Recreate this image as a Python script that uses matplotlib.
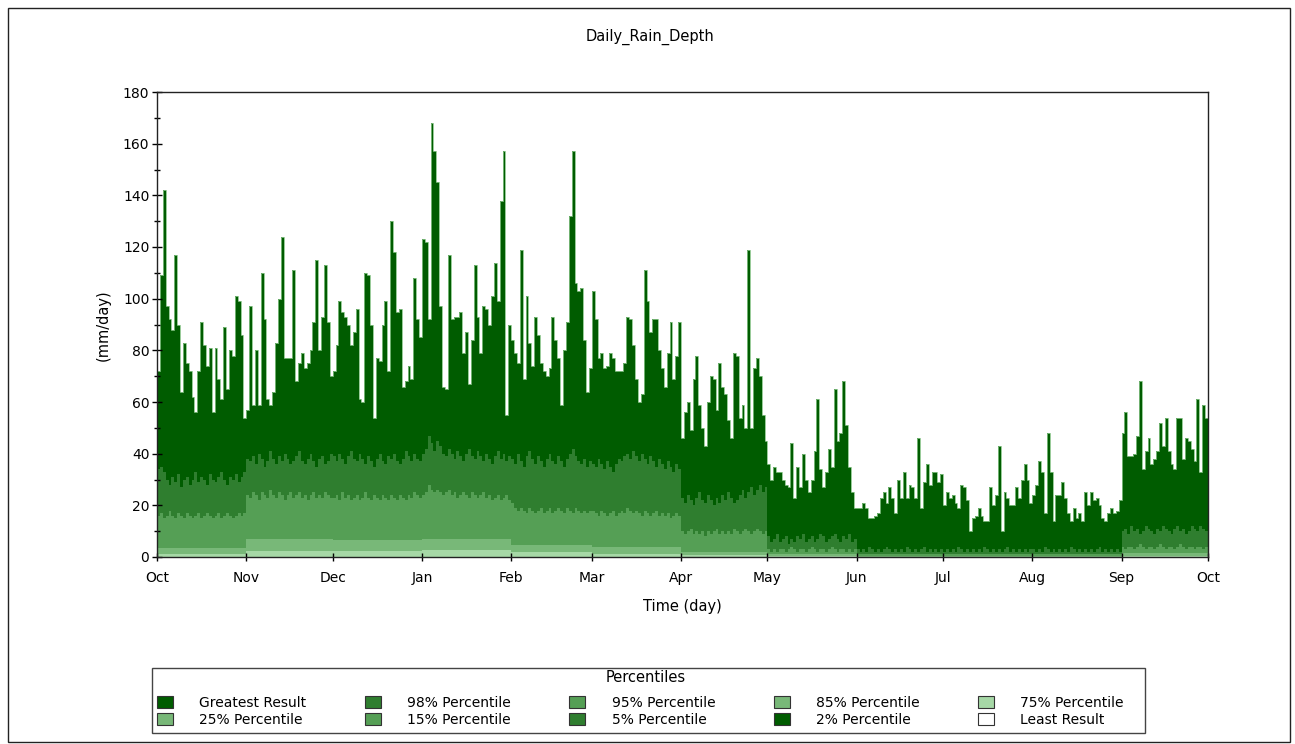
import matplotlib.pyplot as plt
import numpy as np
from matplotlib.patches import Patch, Rectangle

W, H = 1295, 744

month_labels = ['Oct', 'Nov', 'Dec', 'Jan', 'Feb', 'Mar', 'Apr', 'May', 'Jun', 'Jul', 'Aug', 'Sep', 'Oct']
month_days = [31, 30, 31, 31, 28, 31, 30, 31, 30, 31, 31, 30]

# daily values (mm/day), Oct 1 .. Sep 30
greatest = [
    # Oct
    72, 109, 142, 97, 92, 88, 117, 90, 64, 83, 75, 72, 62, 56, 72, 91, 82, 74, 81, 56,
    81, 69, 61, 89, 65, 80, 78, 101, 99, 86, 54,
    # Nov
    57, 97, 59, 80, 59, 110, 92, 61, 59, 64, 83, 100, 124, 77, 77, 77, 111, 68, 75, 79,
    73, 75, 80, 91, 115, 80, 93, 113, 91, 70,
    # Dec
    72, 82, 99, 95, 93, 90, 82, 87, 96, 61, 60, 110, 109, 90, 54, 77, 76, 90, 99, 72,
    130, 118, 95, 96, 66, 68, 74, 69, 108, 92, 85,
    # Jan
    123, 122, 92, 168, 157, 145, 97, 66, 65, 117, 92, 93, 93, 95, 79, 87, 67, 84, 113, 93,
    79, 97, 96, 90, 101, 114, 99, 138, 157, 55, 90,
    # Feb
    84, 79, 75, 119, 69, 101, 83, 74, 93, 86, 75, 72, 70, 73, 93, 84, 77, 59, 80, 91,
    132, 157, 106, 103, 104, 84, 64, 73,
    # Mar
    103, 92, 77, 79, 73, 74, 79, 77, 72, 72, 72, 75, 93, 92, 82, 69, 60, 63, 111, 99,
    87, 92, 92, 80, 73, 66, 79, 91, 69, 78, 91,
    # Apr
    46, 56, 60, 49, 69, 78, 59, 50, 43, 60, 70, 69, 57, 75, 66, 63, 53, 46, 79, 78,
    54, 59, 50, 119, 50, 73, 77, 70, 55, 45,
    # May
    36, 30, 35, 33, 33, 30, 28, 27, 44, 23, 35, 27, 40, 30, 25, 30, 41, 61, 34, 27,
    33, 42, 35, 65, 45, 48, 68, 51, 35, 25, 19,
    # Jun
    19, 19, 21, 19, 15, 15, 16, 17, 23, 25, 21, 27, 23, 17, 30, 23, 33, 23, 28, 27,
    23, 46, 19, 29, 36, 28, 33, 33, 29, 32,
    # Jul
    20, 25, 23, 24, 21, 19, 28, 27, 22, 10, 15, 16, 19, 16, 14, 14, 27, 20, 24, 43,
    10, 25, 23, 20, 20, 27, 23, 30, 36, 30, 21,
    # Aug
    24, 28, 37, 33, 17, 48, 33, 14, 24, 24, 29, 23, 17, 14, 19, 15, 17, 14, 25, 20,
    25, 22, 23, 20, 15, 14, 17, 19, 17, 18, 22,
    # Sep
    48, 56, 39, 39, 40, 47, 68, 34, 41, 46, 36, 38, 41, 52, 43, 54, 41, 36, 34, 54,
    54, 38, 46, 45, 42, 37, 61, 33, 59, 54,
]

p98 = [
    # Oct
    34, 35, 33, 30, 28, 31, 29, 32, 27, 30, 31, 28, 30, 33, 29, 31, 30, 28, 32, 30,
    29, 31, 33, 30, 28, 31, 30, 32, 29, 31, 33,
    # Nov
    38, 37, 39, 36, 40, 38, 35, 37, 41, 38, 36, 39, 37, 40, 38, 36, 37, 39, 41, 37,
    36, 38, 40, 37, 35, 38, 39, 36, 37, 40,
    # Dec
    39, 37, 40, 38, 36, 39, 41, 38, 37, 40, 38, 36, 39, 37, 35, 38, 40, 37, 36, 39,
    38, 40, 37, 36, 38, 41, 39, 37, 40, 38, 37,
    # Jan
    40, 42, 47, 44, 41, 45, 43, 40, 39, 42, 40, 38, 41, 39, 37, 40, 42, 39, 38, 41,
    39, 37, 40, 38, 36, 39, 41, 38, 40, 37, 39,
    # Feb
    38, 36, 40, 37, 35, 39, 41, 38, 36, 39, 37, 35, 38, 40, 37, 36, 39, 37, 35, 38,
    40, 42, 39, 37, 36, 38, 35, 37,
    # Mar
    36, 35, 38, 36, 34, 37, 35, 33, 36, 38, 37, 39, 40, 38, 41, 39, 37, 40, 38, 36,
    39, 37, 35, 38, 36, 34, 37, 35, 33, 36, 34,
    # Apr
    23, 21, 24, 22, 20, 23, 25, 22, 21, 24, 22, 20, 23, 21, 24, 22, 25, 23, 21, 22,
    24, 26, 23, 25, 27, 24, 26, 28, 25, 27,
    # May
    8, 6, 7, 9, 6, 7, 8, 5, 7, 6, 8, 7, 9, 6, 7, 8, 6, 7, 9, 8,
    6, 7, 8, 9, 7, 6, 8, 7, 9, 6, 7,
    # Jun
    3, 2, 3, 2, 4, 3, 2, 3, 2, 3, 4, 3, 2, 3, 2, 3, 2, 4, 3, 2,
    3, 2, 3, 4, 2, 3, 2, 3, 2, 3,
    # Jul
    2, 3, 2, 3, 2, 4, 3, 2, 3, 2, 3, 2, 3, 2, 4, 3, 2, 3, 2, 3,
    2, 3, 4, 2, 3, 2, 3, 2, 3, 2, 3,
    # Aug
    3, 2, 3, 2, 4, 3, 2, 3, 2, 3, 2, 3, 2, 4, 3, 2, 3, 2, 3, 2,
    3, 2, 3, 4, 2, 3, 2, 3, 2, 3, 2,
    # Sep
    10, 11, 9, 12, 10, 11, 9, 10, 12, 11, 10, 9, 11, 10, 12, 11, 10, 9, 11, 12,
    10, 11, 9, 10, 12, 11, 10, 12, 11, 10,
]

p95 = [
    # Oct
    16, 17, 15, 16, 18, 16, 15, 17, 16, 15, 17, 16, 15, 16, 17, 15, 16, 17, 16, 15,
    16, 17, 15, 16, 17, 16, 15, 16, 17, 16, 17,
    # Nov
    24, 23, 25, 24, 22, 25, 24, 23, 26, 24, 23, 25, 24, 22, 24, 25, 23, 24, 25, 23,
    24, 22, 24, 25, 23, 24, 23, 25, 24, 23,
    # Dec
    23, 24, 22, 25, 23, 24, 22, 23, 24, 22, 23, 25, 23, 22, 24, 23, 22, 24, 23, 22,
    24, 23, 22, 24, 23, 22, 24, 23, 25, 24, 23,
    # Jan
    24, 25, 28, 26, 25, 26, 25, 24, 25, 26, 24, 25, 23, 24, 25, 24, 23, 25, 24, 23,
    24, 25, 23, 24, 22, 23, 24, 22, 23, 24, 22,
    # Feb
    21, 19, 18, 19, 18, 17, 19, 18, 17, 18, 19, 17, 18, 19, 17, 18, 19, 18, 17, 19,
    18, 17, 19, 18, 17, 18, 17, 18,
    # Mar
    18, 17, 16, 18, 17, 16, 17, 18, 16, 17, 18, 17, 19, 18, 17, 18, 17, 16, 18, 17,
    16, 17, 18, 16, 17, 16, 17, 15, 16, 17, 16,
    # Apr
    10, 9, 10, 11, 9, 10, 9, 10, 8, 10, 9, 10, 11, 9, 10, 9, 10, 9, 11, 10,
    9, 10, 11, 10, 9, 10, 11, 10, 9, 10,
    # May
    3, 2, 3, 2, 3, 3, 2, 3, 4, 3, 2, 3, 3, 2, 3, 4, 3, 2, 3, 3,
    2, 3, 4, 3, 2, 3, 3, 2, 3, 2, 3,
    # Jun
    1, 1, 1, 1, 1, 1, 1, 1, 1, 1, 1, 1, 1, 1, 1, 1, 1, 1, 1, 1,
    1, 1, 1, 1, 1, 1, 1, 1, 1, 1,
    # Jul
    1, 1, 1, 1, 1, 1, 1, 1, 1, 1, 1, 1, 1, 1, 1, 1, 1, 1, 1, 1,
    1, 1, 1, 1, 1, 1, 1, 1, 1, 1, 1,
    # Aug
    1, 1, 1, 1, 1, 1, 1, 1, 1, 1, 1, 1, 1, 1, 1, 1, 1, 1, 1, 1,
    1, 1, 1, 1, 1, 1, 1, 1, 1, 1, 1,
    # Sep
    4, 3, 4, 4, 3, 4, 5, 4, 3, 4, 4, 3, 4, 5, 4, 3, 4, 4, 3, 4,
    5, 4, 3, 4, 4, 3, 4, 4, 3, 4,
]

# lower bands: one level per month
p85_month = [3.5, 7.0, 6.5, 7.0, 4.5, 4.0, 1.8, 1.3, 0.4, 0.4, 0.4, 1.4]
p75_month = [1.2, 2.5, 2.5, 2.6, 1.8, 1.3, 0.6, 0.3, 0.15, 0.15, 0.15, 0.4]
p25_month = [0, 0, 0, 0, 0, 0, 0, 0, 0, 0, 0, 0]
p15_month = [0, 0, 0, 0, 0, 0, 0, 0, 0, 0, 0, 0]
p05_month = [0, 0, 0, 0, 0, 0, 0, 0, 0, 0, 0, 0]
p02_month = [0, 0, 0, 0, 0, 0, 0, 0, 0, 0, 0, 0]
least_month = [0, 0, 0, 0, 0, 0, 0, 0, 0, 0, 0, 0]

C_DARK = '#005c00'
C_98 = '#2f7e2f'
C_95 = '#559f55'
C_85 = '#78b878'
C_75 = '#a6d8a6'

plt.rcParams['font.family'] = ['DejaVu Sans']

fig = plt.figure(figsize=(W / 100, H / 100), dpi=100)
ax = fig.add_axes([157 / W, 1 - 557 / H, (1208 - 157) / W, (557 - 92) / H])

edges = np.arange(len(greatest) + 1)

def daily(monthly):
    return np.repeat(monthly, month_days)

series = [
    (greatest, C_DARK),
    (p98, C_98),
    (p95, C_95),
    (daily(p85_month), C_85),
    (daily(p75_month), C_75),
    (daily(p25_month), C_85),
    (daily(p15_month), C_95),
    (daily(p05_month), C_98),
    (daily(p02_month), C_DARK),
    (daily(least_month), 'white'),
]
for vals, col in series:
    ax.stairs(vals, edges, fill=True, color=col, linewidth=0)

# light outline along the top of the greatest result
ax.stairs(greatest, edges, color='#86c286', linewidth=0.6)

month_edges = np.cumsum([0] + month_days)
ax.set_xlim(0, 365)
ax.set_ylim(0, 180)
ax.set_xticks(month_edges)
ax.set_xticklabels(month_labels)
ax.set_yticks(np.arange(0, 181, 20))
ax.set_yticks(np.arange(0, 181, 10), minor=True)
ax.tick_params(axis='x', direction='inout', length=6, width=1, labelsize=10, pad=7)
ax.tick_params(axis='y', direction='inout', length=7, width=1, labelsize=10, pad=2)
ax.tick_params(axis='y', which='minor', direction='inout', length=5, width=1)
for sp in ax.spines.values():
    sp.set_color('#222222')
    sp.set_linewidth(1)

fig.text(650 / W, 1 - 37 / H, 'Daily_Rain_Depth', ha='center', va='center', fontsize=10.5)
fig.text(682 / W, 1 - 606 / H, 'Time (day)', ha='center', va='center', fontsize=10.5)
fig.text(103 / W, 1 - 325 / H, '(mm/day)', ha='center', va='center', fontsize=10.5, rotation=90)

# legend box with its title, entries placed inside it
fig.add_artist(Rectangle((152 / W, 1 - 733 / H), (1145 - 152) / W, (733 - 668) / H,
                         transform=fig.transFigure, fill=False, edgecolor='#444444', linewidth=1))
fig.text(646 / W, 1 - 678 / H, 'Percentiles', ha='center', va='center', fontsize=10.5)

legend_names = ['Greatest Result', '98% Percentile', '95% Percentile', '85% Percentile', '75% Percentile',
                '25% Percentile', '15% Percentile', '5% Percentile', '2% Percentile', 'Least Result']
legend_cols = [C_DARK, C_98, C_95, C_85, C_75, C_85, C_95, C_98, C_DARK, 'white']
handles = [Patch(facecolor=c, edgecolor='#333333', linewidth=0.8) for c in legend_cols]
# legend fills column by column; reorder so rows read like the original
order = [0, 5, 1, 6, 2, 7, 3, 8, 4, 9]
fig.legend([handles[i] for i in order], [legend_names[i] for i in order],
           ncol=5, loc='lower left', mode='expand',
           bbox_to_anchor=(157 / W, 1 - 727 / H, (1124 - 157) / W, 0.05),
           fontsize=10, frameon=False,
           borderaxespad=0, borderpad=0, handlelength=1.15, handleheight=0.95,
           handletextpad=1.9, labelspacing=0.22)

fig.add_artist(Rectangle((8 / W, 1 - 742 / H), (1290 - 8) / W, (742 - 8) / H,
                         transform=fig.transFigure, fill=False, edgecolor='#222222', linewidth=1))

fig.savefig('out.png', dpi=100)
